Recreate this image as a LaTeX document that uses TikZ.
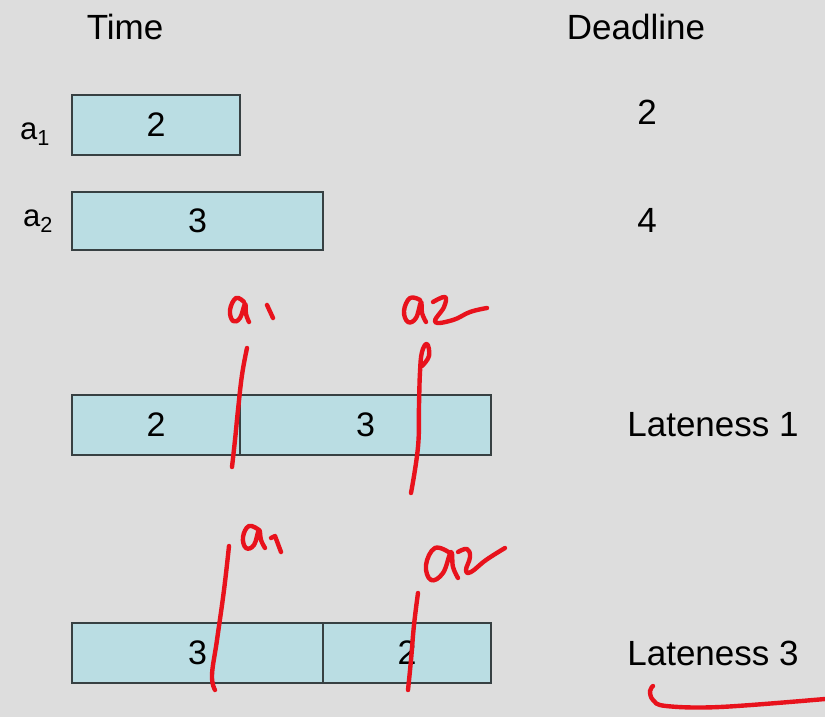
\documentclass[tikz,border=0pt]{standalone}
\usepackage{fontspec}
\setmainfont{Liberation Sans}
\begin{document}
\begin{tikzpicture}[x=1pt,y=-1pt,
  txt/.style={inner sep=0pt,font=\fontsize{35}{40}\selectfont},
  lbl/.style={inner sep=0pt,font=\fontsize{31}{36}\selectfont},
  job/.style={draw=boxline,fill=boxfill,line width=1.8pt,inner sep=0pt,outer sep=0pt,
              minimum height=60pt,font=\fontsize{34}{40}\selectfont},
  ink/.style={draw=inkred,line width=4.4pt,line cap=round,line join=round}]
\definecolor{bg}{RGB}{221,221,221}
\definecolor{boxfill}{RGB}{186,221,227}
\definecolor{boxline}{RGB}{55,64,66}
\definecolor{inkred}{RGB}{232,18,28}
\fill[bg] (0,0) rectangle (825,717);
\useasboundingbox (0,0) rectangle (825,717);

% headings
\node[txt] (time) at (125,27) {Time};
\node[txt] (dl) at (636,27) {Deadline};

% jobs
\node[lbl] (la1) at (35,134) {a\textsubscript{1}};
\node[lbl] (la2) at (38,221) {a\textsubscript{2}};
\node[job,minimum width=168pt] (j1) at (156,125) {2};
\node[job,minimum width=251pt,minimum height=58pt] (j2) at (197.5,221) {3};
\node[txt] (d1) at (647,112) {2};
\node[txt] (d2) at (647,220) {4};

% schedule a1 then a2
\node[job,minimum width=168pt] (s1a) at (156,425) {2};
\node[job,minimum width=251pt,anchor=west] (s1b) at (s1a.east) {3};
\node[txt] (late1) at (713,425) {Lateness 1};

% schedule a2 then a1
\node[job,minimum width=251pt] (s2a) at (197.5,653) {3};
\node[job,minimum width=168pt,anchor=west] (s2b) at (s2a.east) {2};
\node[txt] (late2) at (713,653) {Lateness 3};

% handwritten marks, first schedule
\draw[ink] plot[smooth,tension=0.7] coordinates {(244,302) (236,298) (230,310) (233,321) (240,318) (245,304) (246,314) (249,322)};
\draw[ink] (267,305) -- (273,318);
\draw[ink] plot[smooth,tension=0.7] coordinates {(247,348) (242,375) (238,410) (235,440) (232,467)};
\draw[ink] plot[smooth,tension=0.7] coordinates {(420,300) (410,298) (404,311) (408,322) (416,318) (421,302) (422,313) (426,322)};
\draw[ink] plot[smooth,tension=0.7] coordinates {(433,302) (445,297) (444,307) (435,322) (453,320) (470,312) (487,308)};
\draw[ink] plot[smooth,tension=0.7] coordinates {(422,366) (429,356) (427,344) (422,352) (420,372) (419,405) (418,447) (411,493)};

% handwritten marks, second schedule
\draw[ink] plot[smooth,tension=0.7] coordinates {(259,530) (249,526) (243,537) (246,548) (254,545) (259,530) (261,540) (265,548)};
\draw[ink] (271,538) -- (275,536) -- (281,552);
\draw[ink] plot[smooth,tension=0.7] coordinates {(229,546) (224,590) (217,640) (212,675) (215,690)};
\draw[ink] plot[smooth,tension=0.7] coordinates {(450,553) (435,548) (426,565) (431,580) (443,573) (451,552) (453,567) (458,578)};
\draw[ink] plot[smooth,tension=0.7] coordinates {(458,552) (467,549) (470,557) (466,570) (471,572) (486,560) (505,548)};
\draw[ink] plot[smooth,tension=0.7] coordinates {(418,593) (414,625) (411,660) (408,690)};
\draw[ink] plot[smooth,tension=0.6] coordinates {(653,686) (650,691) (653,700) (666,706) (720,707) (825,699)};
\end{tikzpicture}
\end{document}
